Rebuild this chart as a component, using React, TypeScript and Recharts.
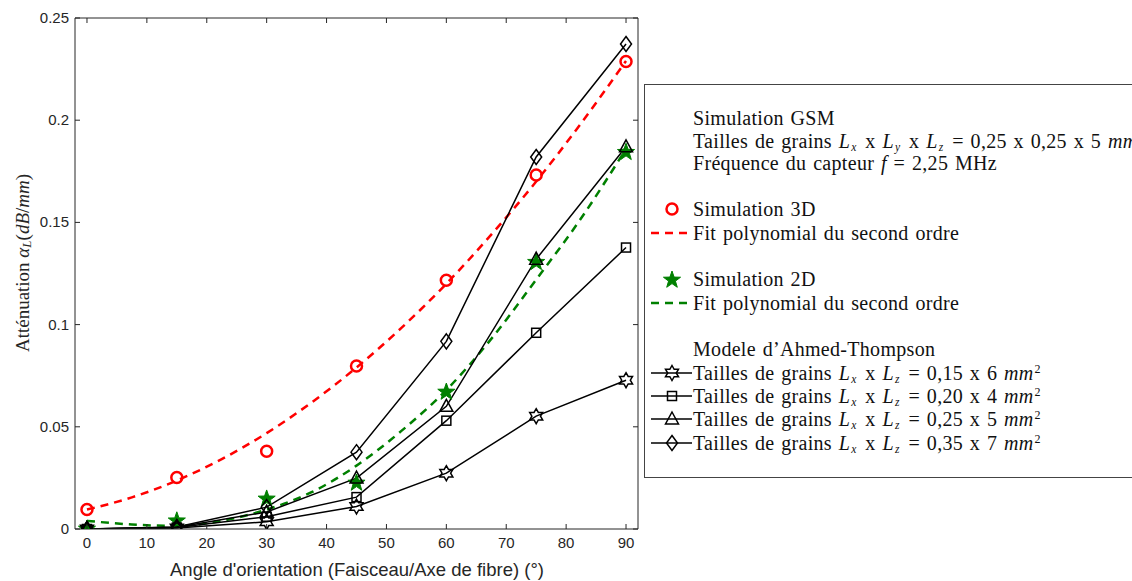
import React from 'react';
import { LineChart, Line, XAxis, YAxis } from 'recharts';

// Angles d'orientation (°)
const angles = [0, 15, 30, 45, 60, 75, 90];
const fitAngles = [0, 7.5, 15, 22.5, 30, 37.5, 45, 52.5, 60, 67.5, 75, 82.5, 90];

// Simulation GSM
const sim3d = [0.0095, 0.0252, 0.038, 0.0797, 0.1217, 0.1732, 0.2287];
const fit3d = [0.0095, 0.0155, 0.0237, 0.0342, 0.0469, 0.0619, 0.079, 0.0984, 0.12, 0.144, 0.17, 0.1985, 0.229];
const sim2d = [0.0005, 0.0045, 0.0152, 0.023, 0.0675, 0.131, 0.1848];
const fit2d = [0.004, 0.0022, 0.0015, 0.004, 0.0095, 0.018, 0.031, 0.048, 0.068, 0.093, 0.122, 0.152, 0.186];

// Modele d'Ahmed-Thompson
const at015x6 = [0, 0.0005, 0.0035, 0.011, 0.0273, 0.0552, 0.0728];
const at020x4 = [0, 0.0007, 0.006, 0.0156, 0.053, 0.096, 0.1377];
const at025x5 = [0, 0.0009, 0.0083, 0.0249, 0.06, 0.132, 0.187];
const at035x7 = [0, 0.001, 0.0107, 0.0376, 0.0918, 0.182, 0.2373];

const xTicks = [0, 10, 20, 30, 40, 50, 60, 70, 80, 90];
const yTicks = [0, 0.05, 0.1, 0.15, 0.2, 0.25];

const toPoints = (xs: number[], ys: number[]) => xs.map((x, i) => ({ x, y: ys[i] }));

const AXIS = '#262626';
const RED = '#ff0000';
const GREEN = '#008000';

type Kind = 'circle' | 'pentagram' | 'hexagram' | 'square' | 'triangle' | 'diamond';

function starPoints(cx: number, cy: number, n: number, R: number, r: number) {
  const pts: string[] = [];
  for (let i = 0; i < n * 2; i++) {
    const rad = i % 2 === 0 ? R : r;
    const a = -Math.PI / 2 + (i * Math.PI) / n;
    pts.push(`${cx + rad * Math.cos(a)},${cy + rad * Math.sin(a)}`);
  }
  return pts.join(' ');
}

function Marker({ kind, cx, cy }: { kind: Kind; cx: number; cy: number }) {
  const black = { fill: 'none', stroke: '#000', strokeWidth: 1.5 };
  switch (kind) {
    case 'circle':
      return <circle cx={cx} cy={cy} r={5.5} fill="none" stroke={RED} strokeWidth={2.5} />;
    case 'pentagram':
      return <polygon points={starPoints(cx, cy + 1, 5, 9, 3.6)} fill={GREEN} stroke={GREEN} strokeWidth={1} />;
    case 'hexagram':
      return <polygon points={starPoints(cx, cy, 6, 7.5, 4.3)} {...black} />;
    case 'square':
      return <rect x={cx - 4.5} y={cy - 4.5} width={9} height={9} {...black} />;
    case 'triangle':
      return <polygon points={`${cx},${cy - 7} ${cx + 6.5},${cy + 5} ${cx - 6.5},${cy + 5}`} {...black} />;
    case 'diamond':
      return <polygon points={`${cx},${cy - 7.5} ${cx + 5.5},${cy} ${cx},${cy + 7.5} ${cx - 5.5},${cy}`} {...black} />;
  }
  return null;
}

const dotOf = (kind: Kind) => (props: any) => (
  <Marker key={`${kind}-${props.index}`} kind={kind} cx={props.cx} cy={props.cy} />
);

const BottomTick = (props: any) => {
  const { x, y, payload } = props;
  return (
    <g>
      <line x1={x} y1={y} x2={x} y2={y - 5} stroke={AXIS} />
      <text x={x} y={y + 19} textAnchor="middle" fill={AXIS} fontSize={15} fontFamily="'Liberation Sans', Arial, sans-serif">
        {payload.value}
      </text>
    </g>
  );
};

const TopTick = (props: any) => {
  const { x, y } = props;
  return <line x1={x} y1={y} x2={x} y2={y + 5} stroke={AXIS} />;
};

const LeftTick = (props: any) => {
  const { x, y, payload } = props;
  return (
    <g>
      <line x1={x} y1={y} x2={x + 5} y2={y} stroke={AXIS} />
      <text x={x - 6} y={y + 5} textAnchor="end" fill={AXIS} fontSize={15} fontFamily="'Liberation Sans', Arial, sans-serif">
        {String(payload.value)}
      </text>
    </g>
  );
};

const RightTick = (props: any) => {
  const { x, y } = props;
  return <line x1={x} y1={y} x2={x - 5} y2={y} stroke={AXIS} />;
};

const serif = "'Liberation Serif', 'Times New Roman', serif";

const YTitle = () => (
  <text
    x={22}
    y={263}
    transform="rotate(-90, 22, 263)"
    textAnchor="middle"
    dominantBaseline="central"
    fontFamily={serif}
    fontSize={19}
    fill={AXIS}
  >
    Atténuation <tspan fontStyle="italic">α</tspan>
    <tspan fontStyle="italic" fontSize={13} dy={4}>L</tspan>
    <tspan dy={-4}>(</tspan>
    <tspan fontStyle="italic">dB</tspan>/<tspan fontStyle="italic">mm</tspan>)
  </text>
);

const XTitle = () => (
  <text x={357} y={576} textAnchor="middle" fontFamily="'Liberation Sans', Arial, sans-serif" fontSize={18.5} fill={AXIS}>
    Angle d'orientation (Faisceau/Axe de fibre) (°)
  </text>
);

const Sub = ({ c }: { c: string }) => (
  <sub style={{ fontSize: 11.5, fontStyle: 'italic', verticalAlign: -3, lineHeight: 0, marginLeft: 1, marginRight: 2 }}>{c}</sub>
);
const Sup = () => <sup style={{ fontSize: 12, lineHeight: 0, marginLeft: 1, verticalAlign: 7 }}>2</sup>;
const L = ({ c }: { c: string }) => (
  <>
    <i>L</i>
    <Sub c={c} />
  </>
);

function LegendIcon({ kind, line }: { kind?: Kind; line?: string }) {
  return (
    <svg width={46} height={22} style={{ position: 'absolute', left: 0, top: 0 }}>
      {line === 'black' && <line x1={3} y1={11} x2={44} y2={11} stroke="#000" strokeWidth={1.5} />}
      {line && line !== 'black' && (
        <line x1={3} y1={11} x2={44} y2={11} stroke={line} strokeWidth={2.5} strokeDasharray="8 6" />
      )}
      {kind && <Marker kind={kind} cx={24} cy={11} />}
    </svg>
  );
}

const grain = (a: string, b: string) => (
  <>
    Tailles de grains <L c="x" /> x <L c="z" /> = {a} x {b} <i>mm</i>
    <Sup />
  </>
);

const legendRows: { y: number; kind?: Kind; line?: string; text: React.ReactNode }[] = [
  { y: 117, text: 'Simulation GSM' },
  {
    y: 140,
    text: (
      <>
        Tailles de grains <L c="x" /> x <L c="y" /> x <L c="z" /> = 0,25 x 0,25 x 5 <i>mm</i>
        <Sup />
      </>
    ),
  },
  { y: 162, text: <>Fréquence du capteur <i>f</i> = 2,25 MHz</> },
  { y: 208, kind: 'circle', text: 'Simulation 3D' },
  { y: 232, line: RED, text: 'Fit polynomial du second ordre' },
  { y: 278, kind: 'pentagram', text: 'Simulation 2D' },
  { y: 302, line: GREEN, text: 'Fit polynomial du second ordre' },
  { y: 348, text: 'Modele d\u2019Ahmed-Thompson' },
  { y: 372, kind: 'hexagram', line: 'black', text: grain('0,15', '6') },
  { y: 395, kind: 'square', line: 'black', text: grain('0,20', '4') },
  { y: 418, kind: 'triangle', line: 'black', text: grain('0,25', '5') },
  { y: 442, kind: 'diamond', line: 'black', text: grain('0,35', '7') },
];

function LegendBox() {
  return (
    <div
      style={{
        position: 'absolute',
        left: 644,
        top: 84,
        width: 600,
        height: 394,
        border: '1px solid #444',
        background: '#fff',
        boxSizing: 'border-box',
        fontFamily: serif,
        fontSize: 20,
        letterSpacing: 0.3,
        wordSpacing: 1.5,
        color: '#111',
      }}
    >
      {legendRows.map((r, i) => (
        <div key={i} style={{ position: 'absolute', left: 3, top: r.y - 84 - 11, height: 22, whiteSpace: 'nowrap' }}>
          <LegendIcon kind={r.kind} line={r.line} />
          <div style={{ position: 'absolute', left: 45, top: 0, lineHeight: '22px' }}>{r.text}</div>
        </div>
      ))}
    </div>
  );
}

export default function App() {
  return (
    <div style={{ position: 'fixed', left: 0, top: 0, width: 1132, height: 581, background: '#fff', overflow: 'hidden' }}>
      <LineChart width={1132} height={581} margin={{ top: 17, right: 493, bottom: 0, left: 0 }}>
        <XAxis
          xAxisId="b"
          dataKey="x"
          type="number"
          domain={[-2, 92]}
          ticks={xTicks}
          tickSize={0}
          tickMargin={0}
          tick={BottomTick}
          stroke={AXIS}
          height={52}
          allowDataOverflow
          label={{ content: XTitle }}
        />
        <XAxis
          xAxisId="t"
          orientation="top"
          dataKey="x"
          type="number"
          domain={[-2, 92]}
          ticks={xTicks}
          tickSize={0}
          tickMargin={0}
          tick={TopTick}
          stroke={AXIS}
          height={1}
          allowDataOverflow
        />
        <YAxis
          yAxisId="l"
          type="number"
          domain={[0, 0.25]}
          ticks={yTicks}
          tickSize={0}
          tickMargin={0}
          tick={LeftTick}
          stroke={AXIS}
          width={75}
          allowDataOverflow
          label={{ content: YTitle }}
        />
        <YAxis
          yAxisId="r"
          orientation="right"
          type="number"
          domain={[0, 0.25]}
          ticks={yTicks}
          tickSize={0}
          tickMargin={0}
          tick={RightTick}
          stroke={AXIS}
          width={1}
          allowDataOverflow
        />

        <Line xAxisId="b" yAxisId="l" data={toPoints(fitAngles, fit3d)} dataKey="y" type="monotone" stroke={RED} strokeWidth={2.5} strokeDasharray="8 6" dot={false} isAnimationActive={false} />
        <Line xAxisId="b" yAxisId="l" data={toPoints(angles, sim3d)} dataKey="y" stroke="none" dot={dotOf('circle')} isAnimationActive={false} />
        <Line xAxisId="b" yAxisId="l" data={toPoints(angles, sim2d)} dataKey="y" stroke="none" dot={dotOf('pentagram')} isAnimationActive={false} />
        <Line xAxisId="b" yAxisId="l" data={toPoints(fitAngles, fit2d)} dataKey="y" type="monotone" stroke={GREEN} strokeWidth={2.5} strokeDasharray="8 6" dot={false} isAnimationActive={false} />

        <Line xAxisId="b" yAxisId="l" data={toPoints(angles, at015x6)} dataKey="y" stroke="#000" strokeWidth={1.5} dot={dotOf('hexagram')} isAnimationActive={false} />
        <Line xAxisId="b" yAxisId="l" data={toPoints(angles, at020x4)} dataKey="y" stroke="#000" strokeWidth={1.5} dot={dotOf('square')} isAnimationActive={false} />
        <Line xAxisId="b" yAxisId="l" data={toPoints(angles, at025x5)} dataKey="y" stroke="#000" strokeWidth={1.5} dot={dotOf('triangle')} isAnimationActive={false} />
        <Line xAxisId="b" yAxisId="l" data={toPoints(angles, at035x7)} dataKey="y" stroke="#000" strokeWidth={1.5} dot={dotOf('diamond')} isAnimationActive={false} />
      </LineChart>
      <LegendBox />
    </div>
  );
}
